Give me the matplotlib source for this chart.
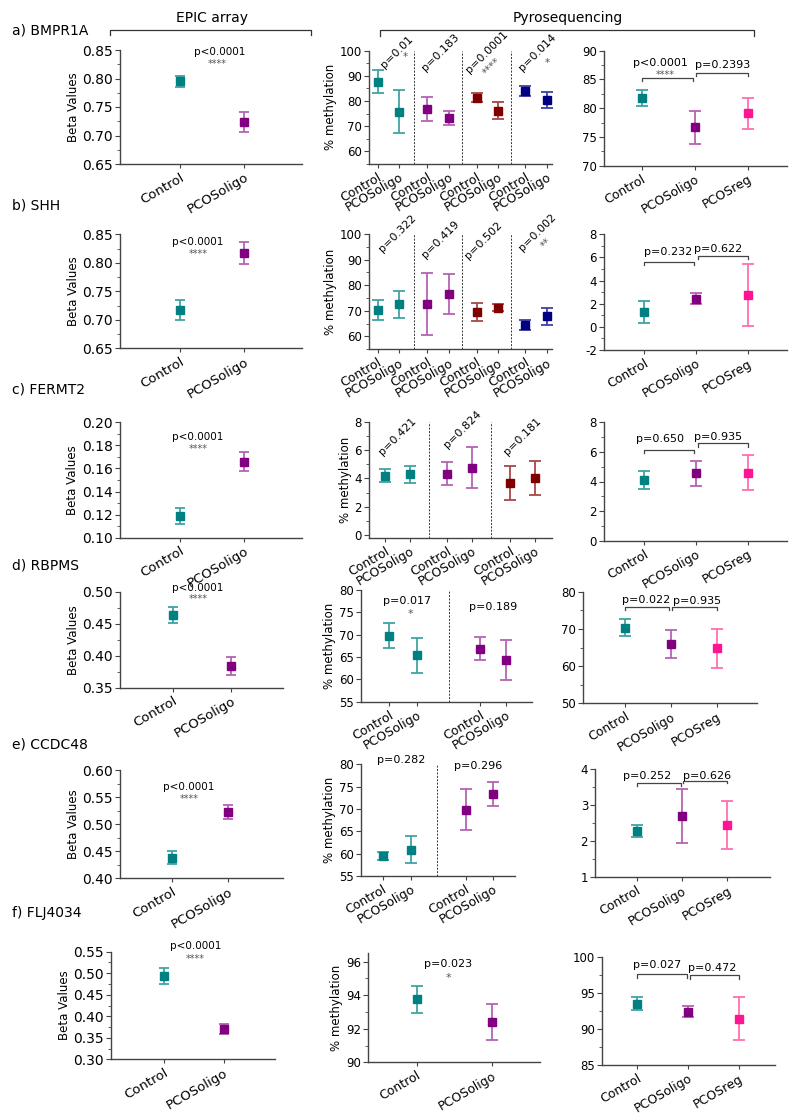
import matplotlib
matplotlib.use('Agg')
import matplotlib.pyplot as plt
from matplotlib.lines import Line2D
from matplotlib.ticker import MultipleLocator, FormatStrFormatter

# ---------------- DATA ----------------
epic_groups = ['Control', 'PCOSoligo']
pyro_groups = ['Control', 'PCOSoligo']
comb_groups = ['Control', 'PCOSoligo', 'PCOSreg']
genes = ['a) BMPR1A', 'b) SHH', 'c) FERMT2', 'd) RBPMS', 'e) CCDC48', 'f) FLJ4034']

# a) BMPR1A
a_epic_mean = [0.795, 0.724]
a_epic_err = [0.010, 0.018]
a_pyro_mean = [87.7, 75.8, 76.9, 73.2, 81.4, 76.2, 83.9, 80.4]
a_pyro_err = [4.5, 8.6, 4.8, 2.8, 1.7, 3.3, 2.0, 3.3]
a_pyro_p = ['p=0.01', 'p=0.183', 'p=0.0001', 'p=0.014']
a_pyro_stars = ['*', '', '****', '*']
a_comb_mean = [81.7, 76.7, 79.1]
a_comb_err = [1.4, 2.9, 2.7]
a_comb_p = ['p<0.0001', 'p=0.2393']
a_comb_stars = ['****', '']

# b) SHH
b_epic_mean = [0.717, 0.817]
b_epic_err = [0.017, 0.019]
b_pyro_mean = [70.3, 72.6, 72.7, 76.5, 69.6, 71.3, 64.6, 67.9]
b_pyro_err = [4.0, 5.2, 12.2, 7.7, 3.6, 1.5, 2.0, 3.4]
b_pyro_p = ['p=0.322', 'p=0.419', 'p=0.502', 'p=0.002']
b_pyro_stars = ['', '', '', '**']
b_comb_mean = [1.3, 2.45, 2.75]
b_comb_err = [0.95, 0.5, 2.7]
b_comb_p = ['p=0.232', 'p=0.622']

# c) FERMT2
c_epic_mean = [0.119, 0.166]
c_epic_err = [0.007, 0.008]
c_pyro_mean = [4.2, 4.3, 4.35, 4.75, 3.65, 4.05]
c_pyro_err = [0.45, 0.6, 0.8, 1.45, 1.2, 1.2]
c_pyro_p = ['p=0.421', 'p=0.824', 'p=0.181']
c_comb_mean = [4.1, 4.55, 4.6]
c_comb_err = [0.6, 0.83, 1.17]
c_comb_p = ['p=0.650', 'p=0.935']

# d) RBPMS
d_epic_mean = [0.464, 0.384]
d_epic_err = [0.0125, 0.014]
d_pyro_mean = [69.8, 65.4, 66.9, 64.3]
d_pyro_err = [2.8, 3.9, 2.5, 4.4]
d_pyro_p = ['p=0.017', 'p=0.189']
d_pyro_stars = ['*', '']
d_comb_mean = [70.3, 65.9, 64.8]
d_comb_err = [2.3, 3.8, 5.2]
d_comb_p = ['p=0.022', 'p=0.935']

# e) CCDC48
e_epic_mean = [0.438, 0.522]
e_epic_err = [0.0115, 0.0125]
e_pyro_mean = [59.5, 60.9, 69.8, 73.4]
e_pyro_err = [0.9, 3.0, 4.6, 2.75]
e_pyro_p = ['p=0.282', 'p=0.296']
e_comb_mean = [2.29, 2.71, 2.46]
e_comb_err = [0.17, 0.75, 0.66]
e_comb_p = ['p=0.252', 'p=0.626']

# f) FLJ4034
f_epic_mean = [0.494, 0.371]
f_epic_err = [0.019, 0.0115]
f_pyro_mean = [93.75, 92.4]
f_pyro_err = [0.8, 1.1]
f_pyro_p = ['p=0.023']
f_pyro_stars = ['*']
f_comb_mean = [93.5, 92.4, 91.4]
f_comb_err = [0.85, 0.8, 3.0]
f_comb_p = ['p=0.027', 'p=0.472']

# ---------------- STYLE ----------------
TEAL, PURPLE, DRED, NAVY, PINK = '#008080', '#800080', '#800000', '#000080', '#ff1493'
LIGHT = {TEAL: '#40a4a4', PURPLE: '#b463b4', DRED: '#a84848', NAVY: '#4040a8', PINK: '#ff6eb0'}
SPINE = '#444444'

W, H = 800, 1117
fig = plt.figure(figsize=(8, 11.17), dpi=100)


def ax_px(x0, x1, y0, y1):
    return fig.add_axes([x0 / W, 1 - y1 / H, (x1 - x0) / W, (y1 - y0) / H])


def style(ax, ylim, major, minor, xlim, xpos, xlabels, ylabel, fmt, fs_tick, fs_xl):
    ax.set_xlim(*xlim)
    ax.set_ylim(*ylim)
    for s in ['top', 'right']:
        ax.spines[s].set_visible(False)
    for s in ['left', 'bottom']:
        ax.spines[s].set_color(SPINE)
        ax.spines[s].set_linewidth(1.0)
    ax.yaxis.set_major_locator(MultipleLocator(major))
    if minor:
        ax.yaxis.set_minor_locator(MultipleLocator(minor))
    ax.yaxis.set_major_formatter(FormatStrFormatter(fmt))
    ax.set_xticks(xpos)
    ax.set_xticklabels(xlabels, rotation=30, ha='right', rotation_mode='anchor', fontsize=fs_xl)
    ax.tick_params(axis='y', which='major', labelsize=fs_tick, length=3.5, width=0.8, color=SPINE, pad=1.5)
    ax.tick_params(axis='y', which='minor', length=2, width=0.6, color=SPINE)
    ax.tick_params(axis='x', length=3, width=0.8, color=SPINE, pad=2)
    if ylabel:
        ax.set_ylabel(ylabel, fontsize=8.5, labelpad=2)


def points(ax, xpos, means, errs, colors, cap=3.5):
    for x, m, e, c in zip(xpos, means, errs, colors):
        ax.errorbar([x], [m], yerr=[e], fmt='none', ecolor=LIGHT[c], elinewidth=1.3,
                    capsize=cap, capthick=1.3, zorder=2)
        ax.plot([x], [m], 's', color=c, markersize=5.5, zorder=3)


def bracket(ax, x0, x1, y, d):
    ax.plot([x0, x0, x1, x1], [y - d, y, y, y - d], color=SPINE, lw=0.9, clip_on=False)


# ---------------- HEADERS ----------------
fig.text(212 / W, 1 - 18 / H, 'EPIC array', ha='center', va='center', fontsize=10)
fig.text(568 / W, 1 - 18 / H, 'Pyrosequencing', ha='center', va='center', fontsize=10)
fig.add_artist(Line2D([110 / W, 110 / W, 311 / W, 311 / W], [1 - 35 / H, 1 - 30 / H, 1 - 30 / H, 1 - 35 / H],
                      color='#333333', lw=0.9))
fig.add_artist(Line2D([380 / W, 380 / W, 754 / W, 754 / W], [1 - 36 / H, 1 - 30 / H, 1 - 30 / H, 1 - 36 / H],
                      color='#333333', lw=0.9))

title_y = [31, 205.7, 390, 565.7, 744, 912.7]
for t, y in zip(genes, title_y):
    fig.text(12 / W, 1 - y / H, t, ha='left', va='center', fontsize=10)

# ---------------- LEFT (EPIC) PANELS ----------------
epic_cfg = [
    ((120, 302, 50, 164), (0.65, 0.85), 0.05, 0.025, (-0.94, 1.9), a_epic_mean, a_epic_err, (0.61, 0.846), (0.58, 0.826)),
    ((120, 302, 234.3, 348.3), (0.65, 0.85), 0.05, 0.025, (-0.94, 1.9), b_epic_mean, b_epic_err, (0.28, 0.836), (0.28, 0.816)),
    ((120, 302, 422.3, 537.7), (0.10, 0.20), 0.02, 0.01, (-0.94, 1.9), c_epic_mean, c_epic_err, (0.28, 0.187), (0.28, 0.1765)),
    ((120, 283.3, 591.7, 687.7), (0.35, 0.50), 0.05, 0.025, (-0.91, 1.89), d_epic_mean, d_epic_err, (0.43, 0.506), (0.43, 0.489)),
    ((120, 283.3, 770, 878.3), (0.40, 0.60), 0.05, 0.025, (-0.93, 1.98), e_epic_mean, e_epic_err, (0.30, 0.569), (0.30, 0.547)),
    ((111, 275, 951.7, 1059.3), (0.30, 0.55), 0.05, 0.025, (-0.89, 1.86), f_epic_mean, f_epic_err, (0.53, 0.563), (0.53, 0.533)),
]
for box, ylim, mj, mn, xlim, mean, err, ppos, spos in epic_cfg:
    ax = ax_px(*box)
    style(ax, ylim, mj, mn, xlim, [0, 1], epic_groups, 'Beta Values', '%.2f', 10, 9.5)
    points(ax, [0, 1], mean, err, [TEAL, PURPLE])
    ax.text(*ppos, 'p<0.0001', ha='center', va='center', fontsize=7.5)
    ax.text(*spos, '****', ha='center', va='center', fontsize=7, color='#555555')

# ---------------- MIDDLE (PYRO per cohort) PANELS ----------------
pos8 = [0, 1, 2.3, 3.3, 4.6, 5.6, 6.85, 7.85]
sep8 = [1.69, 3.93, 6.19]
col8 = [TEAL, TEAL, PURPLE, PURPLE, DRED, DRED, NAVY, NAVY]
lab8 = pyro_groups * 4
PFS = 8

# a
ax = ax_px(369, 552, 50.7, 164)
style(ax, (55, 100), 10, 5, (-0.4, 8.1), pos8, lab8, '% methylation', '%d', 8.5, 9)
for s in sep8:
    ax.axvline(s, color='#333333', lw=0.7, ls=(0, (2, 1.5)))
points(ax, pos8, a_pyro_mean, a_pyro_err, col8, cap=4)
for t, (x, y) in zip(a_pyro_p, [(0.9, 99.5), (2.94, 99.5), (5.08, 99.5), (7.41, 99.5)]):
    ax.text(x, y, t, rotation=45, ha='center', va='center', fontsize=PFS, clip_on=False)
for t, (x, y) in zip(a_pyro_stars, [(1.27, 97.5), (0, 0), (5.32, 93.5), (7.87, 95.3)]):
    if t:
        ax.text(x, y, t, rotation=45 if len(t) > 2 else 0, ha='center', va='center', fontsize=7.5, color='#555555')

# b
ax = ax_px(369, 552, 234, 349.3)
style(ax, (55, 100), 10, 5, (-0.4, 8.1), pos8, lab8, '% methylation', '%d', 8.5, 9)
for s in sep8:
    ax.axvline(s, color='#333333', lw=0.7, ls=(0, (2, 1.5)))
points(ax, pos8, b_pyro_mean, b_pyro_err, col8, cap=4)
for t, (x, y) in zip(b_pyro_p, [(0.93, 100.3), (2.9, 97.7), (4.94, 97.4), (7.41, 100.7)]):
    ax.text(x, y, t, rotation=45, ha='center', va='center', fontsize=PFS, clip_on=False)
for t, (x, y) in zip(b_pyro_stars, [(0, 0), (0, 0), (0, 0), (7.86, 96.5)]):
    if t:
        ax.text(x, y, t, rotation=45, ha='center', va='center', fontsize=7.5, color='#555555')

# c
pos6 = [0, 1, 2.5, 3.5, 5, 6]
sep6 = [1.75, 4.25]
col6 = [TEAL, TEAL, PURPLE, PURPLE, DRED, DRED]
ax = ax_px(369, 551.7, 422, 537.7)
style(ax, (-0.2, 8), 2, 1, (-0.64, 6.67), pos6, pyro_groups * 3, '% methylation', '%d', 8.5, 9)
for s in sep6:
    ax.axvline(s, color='#333333', lw=0.7, ls=(0, (2, 1.5)))
points(ax, pos6, c_pyro_mean, c_pyro_err, col6, cap=4)
for t, (x, y) in zip(c_pyro_p, [(0.49, 7.0), (3.1, 7.45), (5.5, 6.97)]):
    ax.text(x, y, t, rotation=45, ha='center', va='center', fontsize=PFS, clip_on=False)

# d
pos4d = [0, 1, 3.28, 4.22]
col4 = [TEAL, TEAL, PURPLE, PURPLE]
ax = ax_px(361, 532.3, 590, 701.7)
style(ax, (55, 80), 5, None, (-1.01, 5.17), pos4d, pyro_groups * 2, '% methylation', '%d', 8.5, 9)
ax.axvline(2.17, color='#333333', lw=0.7, ls=(0, (2, 1.5)))
points(ax, pos4d, d_pyro_mean, d_pyro_err, col4, cap=4)
ax.text(0.66, 77.5, d_pyro_p[0], ha='center', va='center', fontsize=PFS)
ax.text(0.78, 74.6, d_pyro_stars[0], ha='center', va='center', fontsize=8, color='#555555')
ax.text(3.74, 76.2, d_pyro_p[1], ha='center', va='center', fontsize=PFS)

# e
pos4e = [0, 1, 2.93, 3.89]
ax = ax_px(361, 515, 764.3, 876)
style(ax, (55, 80), 5, None, (-0.77, 4.68), pos4e, pyro_groups * 2, '% methylation', '%d', 8.5, 9)
ax.axvline(1.91, color='#333333', lw=0.7, ls=(0, (2, 1.5)))
points(ax, pos4e, e_pyro_mean, e_pyro_err, col4, cap=4)
ax.text(0.64, 81.0, e_pyro_p[0], ha='center', va='center', fontsize=PFS, clip_on=False)
ax.text(3.38, 79.6, e_pyro_p[1], ha='center', va='center', fontsize=PFS)

# f
ax = ax_px(367.7, 540, 953.3, 1062.3)
style(ax, (90, 96.5), 2, 1, (-0.65, 1.64), [0, 1], pyro_groups, '% methylation', '%d', 8.5, 9)
points(ax, [0, 1], f_pyro_mean, f_pyro_err, [TEAL, PURPLE], cap=4)
ax.text(0.42, 95.87, f_pyro_p[0], ha='center', va='center', fontsize=PFS)
ax.text(0.42, 95.0, f_pyro_stars[0], ha='center', va='center', fontsize=8, color='#555555')

# ---------------- RIGHT (combined) PANELS ----------------
comb_cfg = [
    ((604, 787, 50.7, 165.7), (70, 90), 5, 2.5, (-0.71, 2.74), a_comb_mean, a_comb_err, a_comb_p,
     [(0.35, 87.8), (1.53, 87.6)], [(0, 0.97, 85.3, 0.6), (1.03, 2.0, 86.2, 0.6)]),
    ((604, 787, 234.3, 350), (-2, 8), 2, 1, (-0.77, 2.75), b_comb_mean, b_comb_err, b_comb_p,
     [(0.46, 6.44), (1.42, 6.73)], [(0, 0.97, 5.63, 0.3), (1.03, 2.0, 6.15, 0.3)]),
    ((604, 787, 422.3, 540.7), (0, 8), 2, 1, (-0.77, 2.75), c_comb_mean, c_comb_err, c_comb_p,
     [(0.31, 6.87), (1.43, 6.99)], [(0, 0.97, 6.13, 0.22), (1.03, 2.0, 6.58, 0.22)]),
    ((582.7, 757.3, 591.7, 703.3), (50, 80), 10, 5, (-0.92, 2.89), d_comb_mean, d_comb_err, d_comb_p,
     [(0.47, 77.8), (1.57, 77.6)], [(0, 0.97, 76.0, 0.8), (1.03, 2.0, 76.0, 0.8)]),
    ((595, 770, 769.3, 877.3), (1, 4), 1, 0.5, (-0.92, 2.94), e_comb_mean, e_comb_err, e_comb_p,
     [(0.22, 3.8), (1.55, 3.81)], [(0, 0.97, 3.61, 0.07), (1.03, 2.0, 3.68, 0.07)]),
    ((601.7, 775, 956.7, 1065), (85, 100), 5, 2.5, (-0.7, 2.71), f_comb_mean, f_comb_err, f_comb_p,
     [(0.39, 98.9), (1.48, 98.5)], [(0, 0.97, 97.55, 0.45), (1.03, 2.0, 97.4, 0.45)]),
]
for i, (box, ylim, mj, mn, xlim, mean, err, pt, ppos, brs) in enumerate(comb_cfg):
    ax = ax_px(*box)
    style(ax, ylim, mj, mn, xlim, [0, 1, 2], comb_groups, None, '%d', 8.5, 9)
    points(ax, [0, 1, 2], mean, err, [TEAL, PURPLE, PINK], cap=4)
    for (x0, x1, y, d) in brs:
        bracket(ax, x0, x1, y, d)
    for t, (x, y) in zip(pt, ppos):
        ax.text(x, y, t, ha='center', va='center', fontsize=PFS)
    if i == 0:
        ax.text(0.45, 85.8, a_comb_stars[0], ha='center', va='center', fontsize=7, color='#555555')

fig.savefig('out.png', dpi=100)
